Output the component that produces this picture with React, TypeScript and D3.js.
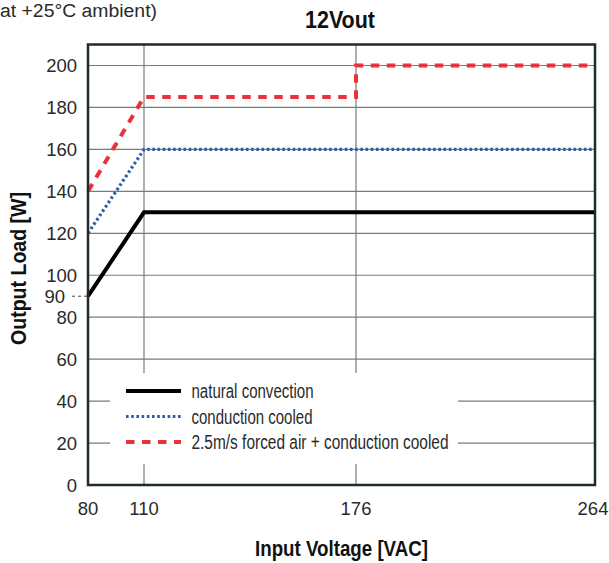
import React from "react";
import * as d3 from "d3";

const xTicks = [80, 110, 176, 264];
const yTicks = [0, 20, 40, 60, 80, 100, 120, 140, 160, 180, 200];
const naturalX = [80, 110, 264];
const naturalY = [90, 130, 130];
const conductionX = [80, 110, 264];
const conductionY = [120, 160, 160];
const forcedX = [80, 110, 176, 176, 264];
const forcedY = [140, 185, 185, 200, 200];
const legendLabels = ["natural convection", "conduction cooled", "2.5m/s forced air + conduction cooled"];
const markLabel = 90;

const FONT = "'Liberation Sans', Arial, sans-serif";
const GRID = "#767c7c";
const AXIS = "#1f2a2a";
const TXT = "#2a2a2a";

export default function App() {
  const left = 88, right = 595, top = 44.5, bottom = 485;
  const x = d3.scaleLinear().domain(xTicks).range([left, 144, 356, right]);
  const y = d3.scaleLinear().domain([0, 210]).range([bottom, top]);
  const line = d3.line<[number, number]>().x(d => x(d[0])).y(d => y(d[1]));
  const pts = (xs: number[], ys: number[]) => xs.map((v, i) => [v, ys[i]] as [number, number]);

  const legend = { x0: 110, x1: 458, y0: 373, y1: 464 };
  const legendLens = [122, 121, 257];
  const series = [
    { xs: naturalX, ys: naturalY, color: "#000", width: 4, dash: undefined as string | undefined },
    { xs: conductionX, ys: conductionY, color: "#2b5ea8", width: 3.2, dash: "2.6,2.6" },
    { xs: forcedX, ys: forcedY, color: "#ea3238", width: 4, dash: "8.5,7.5" },
  ];

  return (
    <svg width={609} height={563} style={{ position: "absolute", left: 0, top: 0, background: "#fff" }} fontFamily={FONT}>
      <text x={0} y={17} fontSize={18} fill={TXT} textLength={157} lengthAdjust="spacingAndGlyphs">at +25°C ambient)</text>
      <text x={340} y={28} fontSize={23} fontWeight="bold" textAnchor="middle" fill="#111" textLength={70} lengthAdjust="spacingAndGlyphs">12Vout</text>

      {/* grid */}
      {yTicks.filter(t => t > 0).map(t => (
        <line key={"h" + t} x1={left} x2={right} y1={y(t)} y2={y(t)} stroke={GRID} strokeWidth={1.2} />
      ))}
      {xTicks.slice(1, 3).map(t => (
        <line key={"v" + t} x1={x(t)} x2={x(t)} y1={top} y2={bottom} stroke={GRID} strokeWidth={1.2} />
      ))}
      <rect x={legend.x0} y={legend.y0} width={legend.x1 - legend.x0} height={legend.y1 - legend.y0} fill="#fff" />

      {/* series */}
      {series.map((s, i) => (
        <path key={i} d={line(pts(s.xs, s.ys)) || ""} fill="none" stroke={s.color} strokeWidth={s.width}
          strokeDasharray={s.dash} strokeLinejoin="miter" />
      ))}

      {/* frame */}
      <rect x={left} y={top} width={right - left} height={bottom - top} fill="none" stroke={AXIS} strokeWidth={2.5} />

      {/* y ticks */}
      {yTicks.map(t => (
        <text key={"yt" + t} x={77} y={y(t)} dy="0.36em" fontSize={18.5} textAnchor="end" fill={TXT}>{t}</text>
      ))}
      <text x={65} y={y(markLabel)} dy="0.36em" fontSize={18.5} textAnchor="end" fill={TXT}>{markLabel}</text>
      <line x1={72} x2={87} y1={y(markLabel)} y2={y(markLabel)} stroke="#444" strokeWidth={1} strokeDasharray="3,3" />

      {/* x ticks */}
      {xTicks.map(t => (
        <text key={"xt" + t} x={x(t) - (t === 264 ? 2 : 0)} y={515} fontSize={18.5} textAnchor="middle" fill={TXT}>{t}</text>
      ))}

      <text x={341.5} y={556} fontSize={21.5} fontWeight="bold" textAnchor="middle" fill="#111" textLength={173} lengthAdjust="spacingAndGlyphs">Input Voltage [VAC]</text>
      <text transform={`translate(26,268.5) rotate(-90)`} fontSize={21.5} fontWeight="bold" textAnchor="middle" fill="#111" textLength={153} lengthAdjust="spacingAndGlyphs">Output Load [W]</text>

      {/* legend */}
      {series.map((s, i) => {
        const ly = 391 + i * 25.5;
        return (
          <g key={"lg" + i}>
            <line x1={126} x2={181} y1={ly} y2={ly} stroke={s.color} strokeWidth={s.width} strokeDasharray={s.dash} />
            <text x={191.5} y={ly} dy="0.36em" fontSize={20} fill={TXT} textLength={legendLens[i]} lengthAdjust="spacingAndGlyphs">{legendLabels[i]}</text>
          </g>
        );
      })}
    </svg>
  );
}
